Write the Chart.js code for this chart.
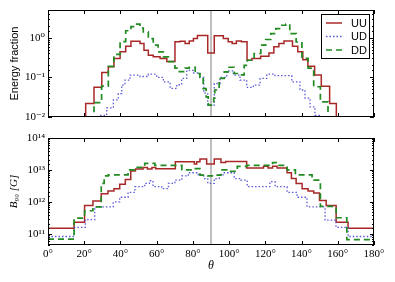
<!DOCTYPE html>
<html>
<head>
<meta charset="utf-8">
<script src="https://cdn.jsdelivr.net/npm/chart.js@4.4.0/dist/chart.umd.min.js"></script>
<style>
html, body { margin: 0; padding: 0; background: #fff; }
#wrap { position: relative; width: 395px; height: 282px; }
#wrap canvas { position: absolute; left: 0; }
</style>
</head>
<body>
<div id="wrap">
<canvas id="top" width="395" height="127" style="top:0"></canvas>
<canvas id="bottom" width="395" height="155" style="top:127px"></canvas>
</div>
<script>
// step histograms: left bin edges (deg) and value in each bin, last entry closes the last bin
var seriesNames = ['UU', 'UD', 'DD'];
var xTicks = [0, 20, 40, 60, 80, 100, 120, 140, 160, 180];

// energy fraction (1e-4 = empty bin, below the axis)
var uuTopTheta = [0, 20.8, 25.4, 29.7, 33.3, 36.4, 39.8, 42.9, 45.8, 50.8, 53.0, 55.4, 58.1, 61.9, 65.6, 70.1, 72.9, 75.7, 78.0, 80.3, 82.5, 88.2, 91.8, 96.8, 99.5, 101.7, 104.0, 106.8, 109.9, 112.6, 117.4, 122.0, 124.7, 127.5, 130.3, 135.0, 137.9, 140.7, 143.5, 147.2, 150.9, 155.5, 159.2, 180];
var uuTop = [1e-4, 0.022, 0.056, 0.133, 0.185, 0.30, 0.44, 0.61, 0.82, 0.71, 0.48, 0.36, 0.33, 0.30, 0.25, 0.79, 0.81, 0.71, 0.83, 0.95, 1.13, 0.41, 1.12, 0.95, 0.79, 0.71, 0.83, 0.79, 0.27, 0.30, 0.34, 0.41, 0.59, 0.71, 0.83, 0.61, 0.44, 0.28, 0.19, 0.114, 0.06, 0.022, 1e-4, 1e-4];

var udTopTheta = [0, 28.7, 32.4, 36.1, 38.8, 40.7, 42.5, 45.3, 50.8, 55.4, 60.0, 63.7, 67.4, 71.1, 73.8, 76.6, 80.3, 83.9, 86.0, 88.2, 91.8, 95.0, 98.7, 102.3, 106.0, 109.7, 113.4, 117.1, 120.8, 125.3, 129.0, 134.6, 139.1, 141.9, 144.7, 147.4, 150.8, 180];
var udTop = [1e-4, 0.011, 0.017, 0.027, 0.039, 0.064, 0.085, 0.114, 0.105, 0.12, 0.10, 0.077, 0.053, 0.065, 0.094, 0.15, 0.13, 0.10, 0.04, 0.02, 0.07, 0.10, 0.146, 0.114, 0.085, 0.056, 0.064, 0.094, 0.12, 0.11, 0.11, 0.077, 0.048, 0.03, 0.018, 0.011, 1e-4, 1e-4];

var ddTopTheta = [0, 25.4, 29.6, 33.3, 36.4, 39.8, 42.9, 45.8, 48.5, 50.8, 52.6, 55.4, 58.1, 60.8, 63.7, 66.5, 70.1, 72.5, 75.7, 78.0, 81.3, 83.9, 85.7, 87.3, 88.5, 91.5, 92.1, 94.5, 97.3, 100.0, 102.8, 105.5, 108.3, 110.1, 113.8, 117.5, 120.2, 123.0, 125.8, 128.5, 131.3, 133.5, 137.0, 140.2, 143.6, 146.7, 150.4, 154.6, 180];
var ddTop = [1e-4, 0.023, 0.06, 0.19, 0.38, 0.8, 1.5, 1.9, 2.2, 1.75, 1.4, 0.95, 0.65, 0.44, 0.33, 0.25, 0.17, 0.14, 0.17, 0.18, 0.125, 0.10, 0.052, 0.032, 0.02, 0.03, 0.048, 0.094, 0.138, 0.18, 0.125, 0.115, 0.2, 0.27, 0.4, 0.65, 0.9, 1.27, 1.7, 2.06, 2.2, 1.27, 0.78, 0.3, 0.17, 0.058, 0.024, 1e-4, 1e-4];

// B_90 in gauss
var uuBotTheta = [0, 14.4, 20.2, 24.8, 29.4, 33.1, 36.4, 39.6, 42.7, 45.7, 48.3, 52.5, 54.9, 57.4, 59.5, 70.3, 80.8, 82.1, 83.9, 87.6, 91.8, 95.5, 98.1, 109.7, 119.0, 121.5, 124.0, 126.5, 132.0, 134.4, 137.0, 140.3, 143.6, 146.7, 149.9, 153.6, 159.1, 165.7, 180];
var uuBot = [1.5e11, 2.3e11, 7.8e11, 1.07e12, 1.8e12, 2.2e12, 2.6e12, 3.6e12, 5e12, 9.3e12, 1.07e13, 1.2e13, 1.07e13, 1.2e13, 1.1e13, 1.8e13, 1.55e13, 1.8e13, 2.2e13, 1.55e13, 2.2e13, 1.7e13, 1.85e13, 1.15e13, 1.3e13, 1.15e13, 1.3e13, 1.15e13, 8.2e12, 5.4e12, 3.8e12, 2.6e12, 2.2e12, 1.9e12, 1.1e12, 7.8e11, 2.3e11, 1.5e11, 1.5e11];

var udBotTheta = [0, 14.4, 20.6, 25.8, 36.0, 39.6, 44.2, 48.0, 53.4, 56.0, 58.0, 62.8, 66.5, 70.1, 73.9, 77.5, 83.0, 86.0, 88.2, 91.8, 94.5, 97.3, 102.8, 106.5, 110.0, 122.5, 125.4, 132.0, 137.5, 143.0, 153.0, 159.0, 165.7, 180];
var udBot = [8.3e10, 1.6e11, 2.8e11, 7e11, 1e12, 1.4e12, 2e12, 3e12, 3.8e12, 4.6e12, 3e12, 2.6e12, 3.8e12, 4.8e12, 6.5e12, 8.2e12, 7e12, 5.4e12, 3.8e12, 5.4e12, 7e12, 8.2e12, 5.4e12, 4.8e12, 3e12, 4.3e12, 3e12, 2e12, 1.4e12, 7e11, 2.7e11, 1.6e11, 8.3e10, 8.3e10];

var ddBotTheta = [0, 14.4, 20.2, 24.8, 29.4, 31.0, 33.3, 44.2, 47.9, 53.4, 59.0, 73.9, 80.8, 83.9, 88.2, 91.8, 95.5, 98.7, 104.5, 109.7, 122.0, 124.0, 126.0, 132.0, 136.6, 145.8, 150.4, 159.1, 165.0, 180];
var ddBot = [6.9e10, 3.1e11, 5.3e11, 7e11, 3.8e12, 6.5e12, 7e12, 1e13, 1.2e13, 1.6e13, 1.4e13, 1e13, 1.1e13, 6.9e12, 6.5e12, 6.9e12, 1e13, 9e12, 1.3e13, 1.4e13, 1.6e13, 1.7e13, 1.4e13, 1e13, 7e12, 4.8e12, 7.3e11, 3.2e11, 6.6e10, 6.6e10];

var SERIF = "'Liberation Serif', 'DejaVu Serif', serif";
var SANS = "'Liberation Sans', 'DejaVu Sans', sans-serif";
Chart.defaults.font.family = SERIF;
Chart.defaults.color = '#000';

var sup = {'0':'⁰','1':'¹','2':'²','3':'³','4':'⁴','5':'⁵','6':'⁶','7':'⁷','8':'⁸','9':'⁹','-':'⁻'};
function isDecade(v) {
    var e = Math.log10(v);
    return Math.abs(e - Math.round(e)) < 1e-6;
}
function decadeLabel(v) {
    if (!isDecade(v)) return '';
    return '10' + String(Math.round(Math.log10(v))).split('').map(function (c) { return sup[c]; }).join('');
}
function steps(xs, ys) {
    return xs.map(function (x, i) { return {x: x, y: ys[i]}; });
}
function makeSets(uuX, uu, udX, ud, ddX, dd) {
    return [
        {label: seriesNames[0], data: steps(uuX, uu), borderColor: '#a82828', borderWidth: 1.5, order: 2},
        {label: seriesNames[1], data: steps(udX, ud), borderColor: '#5a5ad8', borderWidth: 1.3, borderDash: [1.5, 2], order: 1},
        {label: seriesNames[2], data: steps(ddX, dd), borderColor: '#228b22', borderWidth: 1.7, borderDash: [6, 4], order: 0}
    ];
}

// frame with inward ticks on all four sides, like the old matplotlib look
var frameTicks = {
    id: 'frameTicks',
    beforeDatasetsDraw: function (chart) {
        var ctx = chart.ctx, a = chart.chartArea;
        var px = chart.scales.x.getPixelForValue(90);
        ctx.save();
        ctx.strokeStyle = '#aaaaaa';
        ctx.lineWidth = 1.5;
        ctx.beginPath();
        ctx.moveTo(px, a.top);
        ctx.lineTo(px, a.bottom);
        ctx.stroke();
        ctx.restore();
    },
    afterDatasetsDraw: function (chart) {
        var ctx = chart.ctx, a = chart.chartArea;
        var x = chart.scales.x, y = chart.scales.y;
        ctx.save();
        ctx.strokeStyle = '#000';
        ctx.lineWidth = 1;
        ctx.beginPath();
        x.ticks.forEach(function (t) {
            var px = Math.round(x.getPixelForValue(t.value)) + 0.5;
            ctx.moveTo(px, a.bottom); ctx.lineTo(px, a.bottom - 4);
            ctx.moveTo(px, a.top); ctx.lineTo(px, a.top + 4);
        });
        y.ticks.forEach(function (t) {
            var len = isDecade(t.value) ? 4 : 2;
            var py = Math.round(y.getPixelForValue(t.value)) + 0.5;
            ctx.moveTo(a.left, py); ctx.lineTo(a.left + len, py);
            ctx.moveTo(a.right, py); ctx.lineTo(a.right - len, py);
        });
        ctx.stroke();
        ctx.strokeRect(Math.round(a.left) + 0.5, Math.round(a.top) + 0.5, Math.round(a.width) - 1, Math.round(a.height) - 1);
        ctx.restore();
    }
};

var legendBox = {
    id: 'legendBox',
    afterDraw: function (chart) {
        var ctx = chart.ctx, a = chart.chartArea;
        var x0 = Math.round(a.right) - 53, y0 = Math.round(a.top) + 4;
        ctx.save();
        ctx.fillStyle = '#fff';
        ctx.fillRect(x0, y0, 48, 44);
        ctx.strokeStyle = '#000';
        ctx.lineWidth = 1;
        ctx.strokeRect(x0 + 0.5, y0 + 0.5, 48, 44);
        chart.data.datasets.forEach(function (ds, i) {
            var yy = y0 + 9 + i * 13.5;
            ctx.setLineDash(ds.borderDash || []);
            ctx.strokeStyle = ds.borderColor;
            ctx.lineWidth = ds.borderWidth;
            ctx.beginPath();
            ctx.moveTo(x0 + 5, yy);
            ctx.lineTo(x0 + 21, yy);
            ctx.stroke();
            ctx.setLineDash([]);
            ctx.fillStyle = '#000';
            ctx.font = '11px ' + SANS;
            ctx.textBaseline = 'middle';
            ctx.fillText(ds.label, x0 + 30, yy + 0.5);
        });
        ctx.restore();
    }
};

function xScale(showLabels, h) {
    return {
        type: 'linear', min: 0, max: 180,
        afterBuildTicks: function (s) { s.ticks = xTicks.map(function (v) { return {value: v}; }); },
        grid: {display: false, drawTicks: false},
        border: {display: false},
        ticks: {display: showLabels, padding: 3, maxRotation: 0, font: {size: 11}, callback: function (v) { return v + '°'; }},
        title: {display: showLabels, text: 'θ', font: {size: 12, style: 'italic'}, padding: {top: 0, bottom: 9}},
        afterFit: function (s) { s.height = h; }
    };
}
function yScale(min, max, title, titleFont) {
    return {
        type: 'logarithmic', min: min, max: max,
        grid: {display: false, drawTicks: false},
        border: {display: false},
        ticks: {autoSkip: false, padding: 3, font: {size: 11}, callback: decadeLabel},
        title: {display: true, text: title, font: titleFont, padding: {top: 8, bottom: 0}},
        afterFit: function (s) { s.width = 48; }
    };
}
var common = {
    responsive: false,
    animation: false,
    elements: {line: {stepped: 'before', tension: 0, fill: false}, point: {radius: 0}},
    plugins: {legend: {display: false}, tooltip: {enabled: false}}
};

new Chart(document.getElementById('top'), {
    type: 'line',
    data: {datasets: makeSets(uuTopTheta, uuTop, udTopTheta, udTop, ddTopTheta, ddTop)},
    options: Object.assign({}, common, {
        layout: {padding: {left: 0, right: 21, top: 10, bottom: 0}},
        scales: {
            x: xScale(false, 10),
            y: yScale(0.01, 5, 'Energy fraction', {family: SANS, size: 11})
        }
    }),
    plugins: [frameTicks, legendBox]
});

new Chart(document.getElementById('bottom'), {
    type: 'line',
    data: {datasets: makeSets(uuBotTheta, uuBot, udBotTheta, udBot, ddBotTheta, ddBot)},
    options: Object.assign({}, common, {
        layout: {padding: {left: 0, right: 21, top: 11, bottom: 0}},
        scales: {
            x: xScale(true, 37),
            y: yScale(4.5e10, 1e14, 'B₉₀ [G]', {size: 11, style: 'italic'})
        }
    }),
    plugins: [frameTicks]
});
</script>
</body>
</html>
